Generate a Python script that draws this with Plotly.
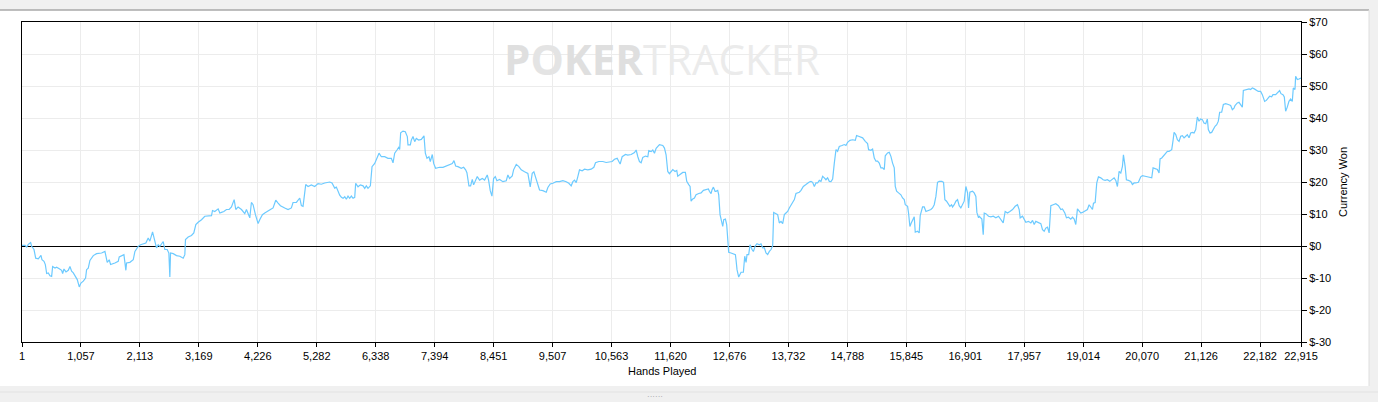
"""PokerTracker-style winnings graph: currency won over hands played."""

import plotly.graph_objects as go

# ---- data (hands played -> cumulative $ won) -----------------------------------
HANDS_A = [1, 55, 85, 114, 156, 174, 216, 246, 293, 323, 341, 359, 395, 419, 443, 472,
           502, 532, 550, 592, 621, 669, 711, 729, 753, 789, 830, 860, 890, 920, 950,
           991, 1027, 1057, 1099, 1140, 1158, 1188, 1218, 1278, 1337, 1427, 1487, 1528,
           1564, 1588, 1665, 1725, 1743, 1785, 1827, 1862, 1874, 1934, 1994, 2024, 2083,
           2125, 2173, 2220, 2262, 2292, 2340, 2370, 2411, 2441, 2471, 2531, 2560, 2602,
           2632, 2650, 2662, 2710, 2769, 2829, 2889, 2918, 2930, 2978, 3037, 3079, 3115,
           3157, 3217, 3276, 3336, 3396, 3414, 3455, 3515, 3545, 3575, 3617, 3664, 3712,
           3754, 3802, 3831, 3873, 3933, 3992, 4022, 4082, 4111, 4141, 4183, 4231, 4260,
           4308, 4350, 4410, 4452, 4499, 4547, 4589, 4631, 4708, 4768, 4827, 4857, 4917,
           4977, 5006, 5036, 5084, 5126, 5185, 5245, 5305, 5364, 5424, 5514, 5555, 5603,
           5633, 5663]
WON_A = [0.2, 0.2, -0.3, 0.5, 1.1, -0.1, -1.1, -3.8, -4.0, -3.4, -2.9, -4.3, -4.8, -5.8,
         -8.6, -8.4, -9.3, -9.5, -6.4, -6.9, -6.6, -7.1, -7.6, -8.6, -7.2, -8.1, -7.6,
         -6.4, -7.9, -8.4, -9.3, -10.5, -12.8, -11.6, -11.0, -10.0, -7.4, -6.9, -4.5,
         -3.0, -2.4, -2.2, -1.7, -5.1, -4.3, -5.8, -5.3, -4.8, -3.4, -3.0, -2.7, -7.6,
         -5.3, -5.1, -4.3, -1.7, -0.1, 0.4, 0.6, 0.9, 2.5, 1.5, 4.4, 2.5, -0.6, 0.4,
         -0.1, 1.4, -1.1, -1.1, -2.2, -9.7, -2.2, -2.4, -3.0, -3.2, -3.8, -2.7, 2.0, 2.8,
         3.3, 4.1, 6.7, 7.4, 8.2, 9.3, 9.3, 9.5, 11.1, 10.8, 11.6, 10.3, 10.5, 10.8, 11.4,
         11.4, 12.2, 14.5, 11.4, 12.2, 11.4, 10.1, 11.4, 8.8, 13.6, 12.9, 9.8, 7.0, 8.2,
         9.8, 10.3, 10.8, 11.4, 11.9, 14.3, 13.4, 12.6, 11.9, 11.4, 11.9, 13.6, 13.6, 15.0,
         12.6, 12.4, 19.2, 18.6, 19.1, 18.6, 19.5, 19.3, 19.7, 20.0, 19.7, 18.1, 18.4,
         16.8]

HANDS_B = [5693, 5723, 5753, 5783, 5812, 5842, 5872, 5902, 5932, 5962, 5979, 6021, 6063,
           6111, 6141, 6170, 6200, 6242, 6272, 6320, 6349, 6397, 6439, 6499, 6558, 6618,
           6648, 6678, 6719, 6749, 6767, 6785, 6827, 6868, 6904, 6916, 6958, 6976, 7006,
           7036, 7065, 7107, 7155, 7185, 7203, 7227, 7256, 7292, 7316, 7352, 7376, 7411,
           7483, 7543, 7602, 7662, 7710, 7740, 7770, 7811, 7871, 7913, 7949, 7972, 8008,
           8038, 8068, 8092, 8127, 8157, 8199, 8247, 8289, 8336, 8360, 8390, 8420, 8450,
           8480, 8509, 8557, 8617, 8677, 8706, 8736, 8784, 8808, 8856, 8903, 8945, 9005,
           9064, 9106, 9142, 9172, 9213, 9243, 9273, 9333, 9393, 9422, 9464, 9512, 9572,
           9631, 9691, 9751, 9798, 9840, 9870, 9900, 9930, 9959, 9989, 10037, 10079, 10138,
           10198, 10246, 10276, 10335, 10407, 10467, 10526, 10574, 10616, 10664, 10693,
           10717, 10753, 10813, 10854, 10914, 10974, 11004, 11034, 11063, 11093, 11123,
           11171, 11213, 11230, 11272, 11302, 11332, 11362, 11409]
WON_B = [15.9, 15.2, 14.9, 15.4, 14.6, 15.6, 14.9, 15.6, 14.9, 15.2, 19.6, 18.5, 19.1,
         18.8, 18.0, 18.8, 18.0, 18.8, 24.8, 25.8, 26.9, 29.0, 27.9, 27.9, 27.4, 27.4,
         26.0, 29.0, 30.0, 30.8, 30.2, 35.4, 35.9, 35.7, 34.2, 31.6, 31.6, 33.1, 34.2,
         32.6, 33.6, 33.1, 33.3, 34.2, 34.4, 29.0, 27.4, 27.9, 26.4, 28.6, 25.8, 24.3,
         24.6, 24.6, 25.0, 25.3, 25.8, 26.7, 25.0, 24.8, 24.3, 24.6, 23.8, 22.9, 18.8,
         18.8, 20.8, 19.1, 20.6, 21.7, 20.6, 21.1, 20.6, 22.2, 20.6, 17.3, 15.6, 21.1,
         21.7, 20.4, 20.8, 20.1, 20.4, 22.2, 21.1, 21.9, 23.8, 25.5, 24.8, 23.8, 23.2,
         22.7, 18.5, 22.7, 23.2, 20.6, 19.4, 17.5, 17.3, 16.8, 18.3, 19.4, 19.6, 20.1,
         20.1, 20.4, 20.1, 19.6, 18.8, 20.1, 20.6, 19.8, 21.7, 23.8, 23.5, 24.0, 23.8,
         24.0, 24.6, 26.0, 26.4, 26.4, 26.1, 26.4, 26.4, 27.1, 27.4, 26.4, 25.6, 27.9,
         28.6, 28.4, 28.6, 29.2, 30.0, 27.9, 26.4, 26.0, 27.7, 28.1, 27.9, 29.8, 29.5,
         30.0, 29.0, 30.5, 31.3]

HANDS_C = [11421, 11481, 11511, 11540, 11552, 11570, 11600, 11630, 11660, 11701, 11731,
           11749, 11779, 11809, 11839, 11886, 11910, 11946, 11970, 11988, 12018, 12048,
           12077, 12125, 12167, 12209, 12256, 12298, 12316, 12346, 12364, 12388, 12418,
           12435, 12465, 12483, 12507, 12531, 12555, 12573, 12603, 12626, 12644, 12662,
           12704, 12746, 12782, 12793, 12811, 12841, 12883, 12925, 12949, 12973, 12990,
           13020, 13044, 13080, 13104, 13139, 13169, 13211, 13241, 13271, 13301, 13330,
           13360, 13390, 13420, 13450, 13468, 13510, 13539, 13569, 13599, 13629, 13659,
           13688, 13718, 13748, 13778, 13808, 13838, 13867, 13897, 13927, 13957, 13999,
           14046, 14076, 14106, 14136, 14166, 14196, 14225, 14255, 14285, 14315, 14345,
           14375, 14404, 14434, 14464, 14494, 14524, 14554, 14584, 14613, 14643, 14691,
           14733, 14763, 14792, 14834, 14882, 14930, 14953, 14989, 15031, 15061, 15109,
           15150, 15168, 15210, 15240, 15270, 15300, 15329, 15359, 15389, 15419, 15449,
           15467, 15508, 15538, 15568, 15598, 15628, 15646, 15670, 15705, 15747, 15777,
           15807, 15825, 15867, 15884, 15908, 15932, 15956, 15986, 16004, 16045, 16075,
           16093, 16135, 16165, 16195, 16254, 16284, 16314, 16344, 16374, 16403, 16433,
           16481, 16511, 16535, 16565, 16589, 16624, 16654, 16672, 16702, 16732, 16762,
           16791, 16821, 16851, 16881, 16911, 16941, 16959, 16982, 17030, 17060, 17090,
           17108, 17138]
WON_C = [31.7, 31.4, 30.6, 28.5, 25.9, 23.3, 22.6, 23.3, 23.9, 23.3, 23.6, 21.8, 22.3,
         22.8, 23.0, 23.0, 20.2, 19.2, 18.6, 14.0, 14.7, 15.0, 16.0, 16.4, 16.6, 17.4,
         17.6, 17.8, 17.1, 16.4, 17.6, 18.4, 17.1, 17.1, 17.4, 16.0, 9.8, 8.2, 6.1, 8.2,
         8.4, 6.7, 0.4, -2.0, -2.2, -2.5, -2.7, -4.3, -7.4, -9.7, -8.2, -8.2, -3.2, -5.1,
         -2.7, -2.7, 0.4, -1.1, -1.7, 0.1, 0.7, 0.4, 0.7, -0.6, -0.6, -2.2, -2.7, -1.7,
         -1.1, 0.1, 10.5, 10.1, 9.8, 7.2, 7.7, 7.0, 9.8, 10.3, 10.8, 11.9, 12.9, 14.0,
         14.5, 16.4, 16.6, 16.8, 17.4, 18.6, 19.2, 19.7, 20.0, 20.2, 19.9, 18.6, 19.7,
         19.7, 20.5, 20.2, 21.8, 21.3, 20.7, 21.3, 20.2, 20.1, 20.9, 25.9, 30.1, 29.6,
         31.1, 31.4, 31.7, 31.4, 32.4, 33.0, 33.2, 33.0, 34.5, 34.3, 34.1, 33.8, 32.7,
         32.0, 30.1, 29.9, 30.3, 27.5, 26.5, 26.5, 25.9, 24.4, 24.4, 23.9, 28.2, 29.1,
         29.3, 28.0, 25.9, 24.4, 18.6, 17.1, 16.6, 16.0, 15.0, 14.5, 12.9, 12.4, 10.3,
         6.1, 7.2, 8.2, 9.1, 4.3, 4.6, 4.1, 9.5, 12.2, 12.2, 10.8, 11.1, 11.4, 11.9, 12.9,
         15.5, 19.9, 20.2, 20.2, 19.9, 14.5, 14.0, 13.4, 12.4, 12.9, 12.2, 12.9, 14.0,
         14.5, 12.6, 11.9, 12.9, 14.0, 18.6, 16.6, 11.9, 16.8, 17.1, 16.6, 15.5, 10.5,
         8.8]

HANDS_D = [17150, 17198, 17222, 17240, 17269, 17317, 17359, 17401, 17448, 17496, 17538,
           17580, 17615, 17657, 17699, 17747, 17794, 17836, 17866, 17884, 17926, 17956,
           17985, 18033, 18075, 18105, 18135, 18164, 18212, 18254, 18284, 18314, 18343,
           18373, 18403, 18433, 18475, 18522, 18570, 18612, 18642, 18684, 18713, 18749,
           18791, 18821, 18851, 18880, 18910, 18940, 18970, 19000, 19048, 19089, 19119,
           19149, 19179, 19197, 19227, 19256, 19286, 19328, 19370, 19406, 19447, 19489,
           19537, 19567, 19597, 19626, 19656, 19686, 19716, 19734, 19764, 19787, 19823,
           19865, 19895, 19925, 19954, 20002, 20044, 20074, 20122, 20163, 20205, 20241,
           20265, 20301, 20342, 20372, 20390, 20420, 20462, 20492, 20521, 20551, 20599,
           20623, 20641, 20671, 20700, 20730, 20760, 20790, 20820, 20850, 20879, 20909,
           20939, 20969, 20999, 21029, 21058, 21088, 21118, 21148, 21177, 21208, 21237,
           21255, 21285, 21315, 21345, 21375, 21405, 21434, 21458, 21494, 21524, 21566,
           21613, 21655, 21685, 21715, 21733, 21774, 21804, 21834, 21864, 21882, 21924,
           21984, 22013, 22043, 22079, 22103, 22150, 22192, 22222, 22264, 22294, 22329,
           22353, 22389, 22413, 22461, 22490, 22532, 22556, 22592, 22616, 22640, 22669,
           22699, 22729, 22759, 22777, 22807, 22819, 22849, 22878, 22915]
WON_D = [9.3, 8.4, 3.5, 10.3, 10.1, 9.3, 9.1, 9.3, 8.8, 9.3, 8.2, 7.2, 10.8, 10.3, 10.8,
         11.4, 12.4, 12.9, 11.4, 8.8, 9.3, 8.2, 7.4, 7.7, 7.2, 8.0, 6.7, 7.7, 7.2, 7.0,
         5.1, 4.6, 5.6, 5.9, 4.1, 12.6, 12.9, 13.2, 12.6, 11.4, 11.6, 10.3, 8.8, 9.0,
         8.4, 9.0, 8.4, 6.7, 11.6, 10.8, 10.3, 10.5, 11.1, 11.4, 12.9, 11.9, 11.4, 13.4,
         13.6, 19.7, 21.6, 21.3, 20.7, 20.5, 20.7, 20.2, 20.9, 21.3, 20.5, 18.6, 23.3,
         22.8, 24.9, 28.5, 24.9, 20.7, 20.5, 20.2, 19.2, 19.7, 19.7, 19.9, 21.6, 22.0,
         21.8, 21.6, 21.6, 21.3, 24.4, 24.1, 23.9, 22.8, 27.2, 27.5, 28.5, 29.1, 29.6,
         29.6, 30.1, 33.0, 35.5, 34.8, 33.2, 32.7, 34.3, 34.5, 33.8, 34.3, 34.8, 33.8,
         35.3, 35.5, 35.3, 36.4, 40.3, 39.0, 39.7, 39.5, 38.4, 38.2, 39.7, 36.4, 35.3,
         35.5, 36.6, 37.4, 37.9, 39.0, 41.8, 41.8, 44.2, 44.5, 44.2, 43.9, 42.6, 43.1,
         43.9, 44.7, 44.9, 44.2, 43.4, 48.6, 48.9, 49.1, 48.9, 49.4, 49.1, 48.9, 48.3,
         48.3, 47.3, 45.2, 45.5, 46.3, 46.8, 46.6, 47.3, 47.3, 47.8, 48.6, 47.6, 47.3,
         46.6, 42.1, 43.4, 45.2, 45.9, 45.2, 49.4, 48.9, 53.0, 52.0, 52.2, 52.5]

X_TICKS = [1, 1057, 2113, 3169, 4226, 5282, 6338, 7394, 8451, 9507, 10563, 11620,
           12676, 13732, 14788, 15845, 16901, 17957, 19014, 20070, 21126, 22182, 22915]
Y_TICKS = [-30, -20, -10, 0, 10, 20, 30, 40, 50, 60, 70]

LINE = "#6ccaff"
GRID = "#ececec"
FRAME = "#f0f0f0"
FONT = "Liberation Sans, Arial, sans-serif"

hands = HANDS_A + HANDS_B + HANDS_C + HANDS_D
won = WON_A + WON_B + WON_C + WON_D

fig = go.Figure()
fig.add_trace(go.Scatter(
    x=hands, y=won, mode="lines",
    line=dict(color=LINE, width=1.2), hoverinfo="x+y", showlegend=False,
))

# page chrome: grey strips round the white chart panel (paper coords; plot = 22..1301 x 22..342 px)
def _px(x):
    return (x - 22) / 1279


def _py(y):
    return (342 - y) / 320


shapes = [
    dict(type="rect", x0=_px(0), x1=_px(1378), y0=_py(10), y1=_py(0), fillcolor=FRAME, line_width=0),
    dict(type="rect", x0=_px(1369), x1=_px(1378), y0=_py(402), y1=_py(0), fillcolor=FRAME, line_width=0),
    dict(type="rect", x0=_px(0), x1=_px(1378), y0=_py(402), y1=_py(386), fillcolor=FRAME, line_width=0),
    dict(type="line", x0=_px(0), x1=_px(1369), y0=_py(10), y1=_py(10), line=dict(color="#a8a8a8", width=1.5)),
    dict(type="line", x0=_px(1369), x1=_px(1369), y0=_py(386), y1=_py(10), line=dict(color="#dedede", width=1)),
    dict(type="line", x0=_px(0), x1=_px(1378), y0=_py(392), y1=_py(392), line=dict(color="#e2e2e2", width=1)),
]
for s in shapes:
    s.update(xref="paper", yref="paper", layer="below")
fig.update_layout(shapes=shapes)

# watermark
fig.add_annotation(
    x=0.5004, y=_py(58), xref="paper", yref="paper", showarrow=False,
    xanchor="center", yanchor="middle",
    text="<b><span style='color:#dfdfdf'>P</span><span style='color:#e4e4e4'>O</span>"
         "<span style='color:#dfdfdf'>KER</span></b><span style='color:#ebebeb'>TRACKER</span>",
    font=dict(family="Open Sans, Liberation Sans, sans-serif", size=42),
)
fig.add_annotation(
    x=_px(662), y=_py(371), xref="paper", yref="paper", showarrow=False,
    xanchor="center", yanchor="middle",
    text="Hands Played", font=dict(family=FONT, size=11, color="#000"),
)
fig.add_annotation(
    x=_px(1343), y=0.5, xref="paper", yref="paper", showarrow=False, textangle=-90,
    xanchor="center", yanchor="middle",
    text="Currency Won", font=dict(family=FONT, size=11, color="#000"),
)
fig.add_annotation(  # splitter grip under the panel
    x=_px(655), y=_py(396), xref="paper", yref="paper", showarrow=False,
    xanchor="center", yanchor="middle",
    text="······", font=dict(family=FONT, size=8, color="#999"),
)

fig.update_layout(
    width=1378, height=402,
    margin=dict(l=22, r=77, t=22, b=60),
    paper_bgcolor="white", plot_bgcolor="white",
    font=dict(family=FONT, size=11, color="#000"),
    xaxis=dict(
        range=[1, 22915], tickvals=X_TICKS, ticktext=[f"{v:,}" for v in X_TICKS],
        showgrid=True, gridcolor=GRID, gridwidth=1,
        showline=True, linecolor="#000", linewidth=1, mirror=True,
        ticks="outside", ticklen=4, tickcolor="#000", zeroline=False,
    ),
    yaxis=dict(
        range=[-30, 70], side="right", tickvals=Y_TICKS,
        ticktext=[f"${v}" for v in Y_TICKS],
        showgrid=True, gridcolor=GRID, gridwidth=1,
        showline=True, linecolor="#000", linewidth=1, mirror=True,
        ticks="outside", ticklen=5, tickcolor="#000",
        zeroline=True, zerolinecolor="#000", zerolinewidth=1,
    ),
)

# the page is photographed at exactly the figure size, so drop the default body margin
fig.write_html("out.html", config={"displayModeBar": False},
               post_script="document.body.style.margin='0';")
